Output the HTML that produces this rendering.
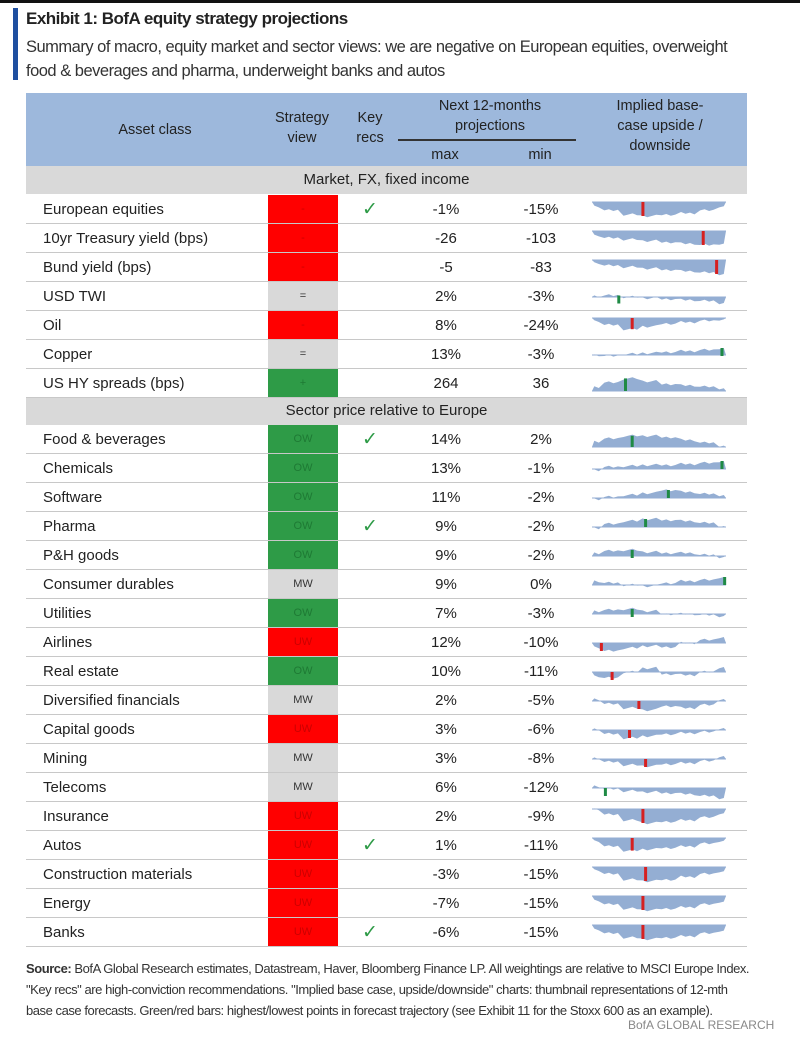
<!DOCTYPE html>
<html><head><meta charset="utf-8"><style>
body{margin:0;width:800px;height:1063px;background:#fff;position:relative;overflow:hidden;font-family:"Liberation Sans",sans-serif;color:#222}
.a{position:absolute}
.row{position:absolute;left:26px;width:721px;height:29px;border-bottom:1.5px solid #c8c8c8;box-sizing:border-box}
.row span{position:absolute;top:6px;font-size:15px}
.sv{position:absolute;left:242px;width:70px;top:0;height:28px;text-align:center;font-size:11px;line-height:28px}
.hd{position:absolute;font-size:14.5px;color:#222;text-align:center;line-height:20px}
</style></head><body>
<div class="a" style="left:0;top:0;width:800px;height:3px;background:#111"></div>
<div class="a" style="left:13px;top:8px;width:5px;height:72px;background:#1f4fa0"></div>
<div class="a" style="left:26px;top:9px;font-size:17px;font-weight:bold;letter-spacing:-0.5px">Exhibit 1: BofA equity strategy projections</div>
<div class="a" style="left:26px;top:35px;font-size:16.5px;line-height:24px;color:#333;letter-spacing:-0.5px;width:790px">Summary of macro, equity market and sector views: we are negative on European equities, overweight<br>food &amp; beverages and pharma, underweight banks and autos</div>
<div class="a" style="left:26px;top:93px;width:721px;height:73px;background:#9db8dc"></div>
<div class="hd" style="left:95px;top:120px;width:120px">Asset class</div>
<div class="hd" style="left:262px;top:108px;width:80px">Strategy<br>view</div>
<div class="hd" style="left:345px;top:108px;width:50px">Key<br>recs</div>
<div class="hd" style="left:400px;top:96px;width:180px">Next 12-months<br>projections</div>
<div class="a" style="left:398px;top:139px;width:178px;height:1.5px;background:#333"></div>
<div class="hd" style="left:420px;top:145px;width:50px">max</div>
<div class="hd" style="left:515px;top:145px;width:50px">min</div>
<div class="hd" style="left:590px;top:96px;width:140px">Implied base-<br>case upside /<br>downside</div>
<div class="a" style="left:26px;top:166px;width:721px;height:28px;background:#d9d9d9;text-align:center;font-size:15px;line-height:28px">Market, FX, fixed income</div>
<div class="a" style="left:26px;top:397px;width:721px;height:28px;background:#d9d9d9;text-align:center;font-size:15px;line-height:28px">Sector price relative to Europe</div>
<div id="rows"></div>
<div class="a" style="left:26px;top:958px;font-size:13px;line-height:21px;color:#333;letter-spacing:-0.45px;width:790px;white-space:nowrap"><b>Source:</b> BofA Global Research estimates, Datastream, Haver, Bloomberg Finance LP. All weightings are relative to MSCI Europe Index.<br>"Key recs" are high-conviction recommendations. "Implied base case, upside/downside" charts: thumbnail representations of 12-mth<br>base case forecasts. Green/red bars: highest/lowest points in forecast trajectory (see Exhibit 11 for the Stoxx 600 as an example).</div>
<div class="a" style="left:628px;top:1018px;font-size:12px;color:#888">BofA GLOBAL RESEARCH</div>
<script>
var R=[
["European equities","r","-",1,"-1%","-15%",[-.3,-.6,-.9,-1,-.9,-.8,-.6,-.3],.38,"r"],
["10yr Treasury yield (bps)","r","-",0,"-26","-103",[-.3,-.5,-.6,-.7,-.8,-.9,-1,-.9],.83,"r"],
["Bund yield (bps)","r","-",0,"-5","-83",[-.2,-.4,-.5,-.6,-.7,-.8,-.9,-1],.93,"r"],
["USD TWI","g","=",0,"2%","-3%",[.1,.15,0,-.1,-.2,-.3,-.4,-.6],.2,"g"],
["Oil","r","-",0,"8%","-24%",[-.2,-.5,-.8,-.6,-.4,-.3,-.2,-.1],.3,"r"],
["Copper","g","=",0,"13%","-3%",[0,-.1,.1,.2,.3,.4,.5,.7],.97,"g"],
["US HY spreads (bps)","G","+",0,"264","36",[.3,.6,.9,.7,.5,.4,.3,.2],.25,"g"],
null,
["Food & beverages","G","OW",1,"14%","2%",[.4,.6,.8,.8,.7,.5,.3,.1],.3,"g"],
["Chemicals","G","OW",0,"13%","-1%",[-.1,.2,.3,.4,.4,.5,.6,.8],.97,"g"],
["Software","G","OW",0,"11%","-2%",[-.1,.1,.3,.5,.8,.6,.4,.3],.57,"g"],
["Pharma","G","OW",1,"9%","-2%",[-.1,.3,.6,.8,.7,.6,.4,.1],.4,"g"],
["P&H goods","G","OW",0,"9%","-2%",[.3,.5,.6,.4,.3,.3,.1,-.1],.3,"g"],
["Consumer durables","g","MW",0,"9%","0%",[.4,.2,0,-.1,.2,.4,.5,.8],.99,"g"],
["Utilities","G","OW",0,"7%","-3%",[.3,.4,.5,.3,0,0,-.1,-.2],.3,"g"],
["Airlines","r","UW",0,"12%","-10%",[-.4,-.8,-.5,-.3,-.4,0,.3,.6],.07,"r"],
["Real estate","G","OW",0,"10%","-11%",[-.4,-.6,0,.4,-.2,-.3,0,.5],.15,"r"],
["Diversified financials","g","MW",0,"2%","-5%",[.2,-.3,-.7,-.9,-.5,-.7,-.4,.2],.35,"r"],
["Capital goods","r","UW",0,"3%","-6%",[.1,-.4,-.8,-.6,-.4,-.3,-.2,.2],.28,"r"],
["Mining","g","MW",0,"3%","-8%",[.1,-.3,-.6,-.7,-.5,-.4,-.2,.3],.4,"r"],
["Telecoms","g","MW",0,"6%","-12%",[.2,-.1,-.3,-.4,-.5,-.6,-.8,-1],.1,"g"],
["Insurance","r","UW",0,"2%","-9%",[0,-.4,-.8,-1,-.9,-.8,-.6,-.3],.38,"r"],
["Autos","r","UW",1,"1%","-11%",[-.2,-.6,-.9,-.8,-.7,-.6,-.4,-.2],.3,"r"],
["Construction materials","r","UW",0,"-3%","-15%",[-.2,-.5,-.9,-1,-.9,-.7,-.5,-.3],.4,"r"],
["Energy","r","UW",0,"-7%","-15%",[-.3,-.6,-.9,-1,-.9,-.8,-.6,-.4],.38,"r"],
["Banks","r","UW",1,"-6%","-15%",[-.3,-.6,-.9,-1,-.9,-.8,-.6,-.4],.38,"r"]];
var h="",y=195;
R.forEach(function(r,i){
 if(!r){y=425;return;}
 var bg=r[1]=="r"?"#ff0000":r[1]=="G"?"#2e9b47":"#d9d9d9",fc=r[1]=="r"?"#c00":r[1]=="G"?"#1e7a34":"#333";
 var W=134,b=13,A=12,pts="0,"+b,n=r[6].length;
 var hasNeg=r[6].some(function(v){return v<0}),hasPos=r[6].some(function(v){return v>0});
 b=hasNeg&&!hasPos?5:(hasPos&&!hasNeg?20:13);A=(hasNeg&&hasPos)?10:14;
 pts="0,"+b;
 for(var k=0;k<n;k++){var x=k*W/(n-1);for(var j=0;j<4;j++){var xx=x+(j-1.5)*4.5;if(xx<0||xx>W)continue;pts+=" "+xx.toFixed(1)+","+(b-r[6][k]*A+((k*7+j*3)%5-2)*.6).toFixed(1);}}
 pts+=" "+W+","+b;
 var mx=r[7]*W,mi=Math.min(n-1,Math.round(r[7]*(n-1))),my=b-r[6][mi]*A;
 var mc=r[8]=="r"?"#d62020":"#1f8a45";
 var top=Math.min(b,my),hh=Math.max(8,Math.abs(my-b));
 var svg='<svg class="a" style="left:566px;top:2px" width="136" height="26"><polygon points="'+pts+'" fill="#94aed3"/><line x1="0" y1="'+b+'" x2="'+W+'" y2="'+b+'" stroke="#94aed3" stroke-width="1"/><rect x="'+(mx-1.5)+'" y="'+top+'" width="3" height="'+hh+'" fill="'+mc+'"/></svg>';
 h+='<div class="row" style="top:'+y+'px"><span style="left:17px">'+r[0].replace("&","&amp;")+'</span><div class="sv" style="background:'+bg+';color:'+fc+'">'+r[2]+'</div>'+(r[3]?'<span style="left:336px;top:3px;font-size:19px;color:#2e9b47">✓</span>':'')+'<span style="left:385px;width:70px;text-align:center">'+r[4]+'</span><span style="left:480px;width:70px;text-align:center">'+r[5]+'</span>'+svg+'</div>';
 y+=29;});
document.getElementById("rows").innerHTML=h;
</script>
</body></html>
